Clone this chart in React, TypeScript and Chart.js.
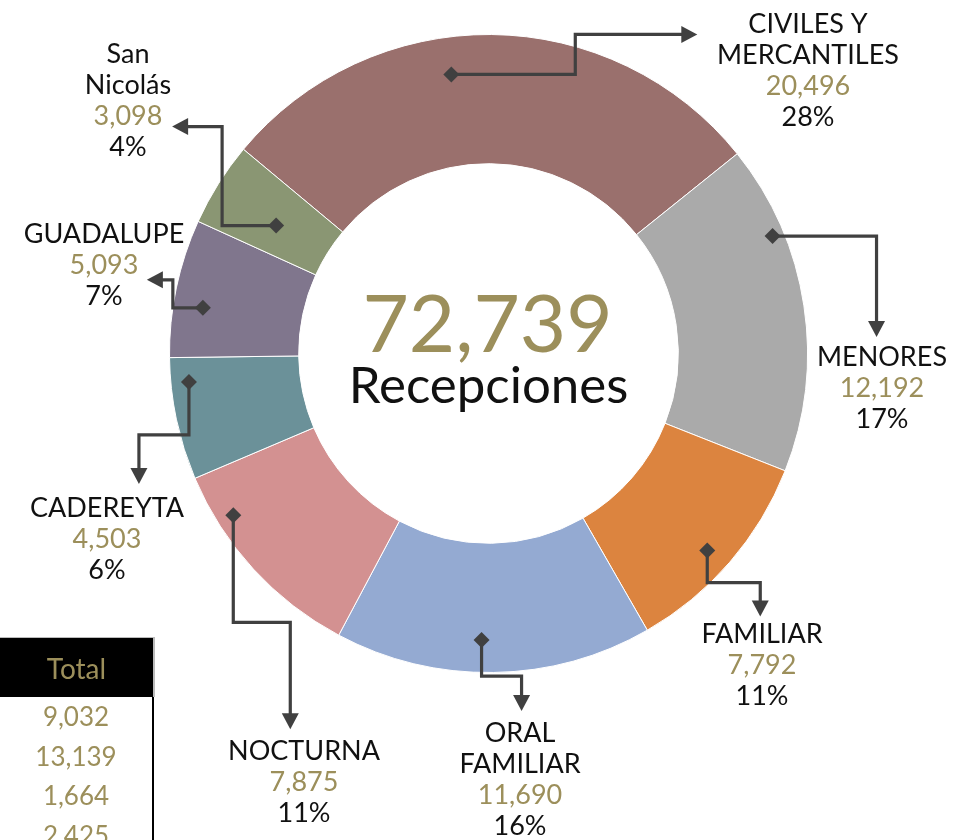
import React, { useEffect, useRef } from 'react';
import { Chart, registerables } from 'chart.js';

Chart.register(...registerables);

// ---- data ----
const categories: string[][] = [
  ['CIVILES Y', 'MERCANTILES'],
  ['MENORES'],
  ['FAMILIAR'],
  ['ORAL', 'FAMILIAR'],
  ['NOCTURNA'],
  ['CADEREYTA'],
  ['GUADALUPE'],
  ['San', 'Nicolás'],
];
const receptions = [20496, 12192, 7792, 11690, 7875, 4503, 5093, 3098];
const centerCaption = 'Recepciones';
const tableHeader = 'Total';
const tableTotals = [9032, 13139, 1664, 2425];

// ---- styles / layout ----
const sliceColors = ['#9a706d', '#aaaaaa', '#dc843f', '#94aad2', '#d39191', '#6b9199', '#80768d', '#8a9673'];
const GOLD = '#9c8f5b';
const LINE = '#404040';
const FONT = 'Lato, "Open Sans", sans-serif';
const LABEL_SIZE = 27;
const LINE_PITCH = 31;

type Seg = ['h' | 'v', number];
interface Callout { at: number; depth: number; path: Seg[]; lx: number; ly: number; }
const calloutLayout: Callout[] = [
  { at: 0.42, depth: 0.71, path: [['h', 124], ['v', -40], ['h', 122]], lx: 808, ly: 33 },
  { at: 0.27, depth: 0.91, path: [['h', 104], ['v', 101]], lx: 882, ly: 366 },
  { at: 0.53, depth: 0.81, path: [['v', 32], ['h', 53], ['v', 34]], lx: 762, ly: 643 },
  { at: 0.54, depth: 0.75, path: [['v', 36], ['h', 40], ['v', 35]], lx: 520, ly: 742 },
  { at: 0.76, depth: 0.87, path: [['v', 107], ['h', 57], ['v', 107]], lx: 304, ly: 760 },
  { at: 0.79, depth: 0.86, path: [['v', 53], ['h', -50], ['v', 49]], lx: 107, ly: 517 },
  { at: 0.39, depth: 0.77, path: [['h', -30], ['v', -28], ['h', -26]], lx: 104, ly: 243 },
  { at: 0.43, depth: 0.45, path: [['h', -54], ['v', -99], ['h', -50]], lx: 128, ly: 63 },
];

const fmt = (n: number) => n.toLocaleString('en-US');

const calloutPlugin = {
  id: 'callouts',
  afterDatasetsDraw(chart: any) {
    const ctx: CanvasRenderingContext2D = chart.ctx;
    const meta = chart.getDatasetMeta(0);
    const values = chart.data.datasets[0].data as number[];
    const total = values.reduce((a, b) => a + b, 0);
    ctx.save();
    let cx = 0, cy = 0;
    meta.data.forEach((arc: any, i: number) => {
      const p = arc.getProps(['x', 'y', 'startAngle', 'endAngle', 'innerRadius', 'outerRadius'], true);
      cx = p.x; cy = p.y;
      const c = calloutLayout[i];
      const a = p.startAngle + c.at * (p.endAngle - p.startAngle);
      const r = p.innerRadius + c.depth * (p.outerRadius - p.innerRadius);
      let x = p.x + r * Math.cos(a);
      let y = p.y + r * Math.sin(a);
      const pts: number[][] = [[x, y]];
      for (const [dir, d] of c.path) {
        if (dir === 'h') x += d; else y += d;
        pts.push([x, y]);
      }
      const n = pts.length;
      const tip = pts[n - 1];
      const prev = pts[n - 2];
      const len = Math.hypot(tip[0] - prev[0], tip[1] - prev[1]);
      const ux = (tip[0] - prev[0]) / len, uy = (tip[1] - prev[1]) / len;
      const aLen = 16, aHalf = 8.5;
      ctx.strokeStyle = LINE;
      ctx.fillStyle = LINE;
      ctx.lineWidth = 3.2;
      ctx.lineJoin = 'miter';
      ctx.beginPath();
      ctx.moveTo(pts[0][0], pts[0][1]);
      for (let k = 1; k < n - 1; k++) ctx.lineTo(pts[k][0], pts[k][1]);
      ctx.lineTo(tip[0] - ux * (aLen - 2), tip[1] - uy * (aLen - 2));
      ctx.stroke();
      // arrow head
      const bx = tip[0] - ux * aLen, by = tip[1] - uy * aLen;
      ctx.beginPath();
      ctx.moveTo(tip[0], tip[1]);
      ctx.lineTo(bx - uy * aHalf, by + ux * aHalf);
      ctx.lineTo(bx + uy * aHalf, by - ux * aHalf);
      ctx.closePath();
      ctx.fill();
      // diamond marker
      const d = 8;
      ctx.beginPath();
      ctx.moveTo(pts[0][0], pts[0][1] - d);
      ctx.lineTo(pts[0][0] + d, pts[0][1]);
      ctx.lineTo(pts[0][0], pts[0][1] + d);
      ctx.lineTo(pts[0][0] - d, pts[0][1]);
      ctx.closePath();
      ctx.fill();
      // label
      ctx.font = `${LABEL_SIZE}px ${FONT}`;
      ctx.textAlign = 'center';
      ctx.textBaseline = 'alphabetic';
      const lines = categories[i];
      let ly = c.ly;
      ctx.fillStyle = '#111111';
      lines.forEach((t) => { ctx.fillText(t, c.lx, ly); ly += LINE_PITCH; });
      ctx.fillStyle = GOLD;
      ctx.fillText(fmt(values[i]), c.lx, ly); ly += LINE_PITCH;
      ctx.fillStyle = '#111111';
      ctx.fillText(Math.round((values[i] / total) * 100) + '%', c.lx, ly);
    });
    // center text
    ctx.textAlign = 'center';
    ctx.textBaseline = 'alphabetic';
    ctx.fillStyle = GOLD;
    ctx.font = `80px ${FONT}`;
    ctx.fillText(fmt(total), cx - 1, cy - 2);
    ctx.fillStyle = '#111111';
    ctx.font = `51px ${FONT}`;
    ctx.fillText(centerCaption, cx, cy + 49);
    ctx.restore();
  },
};

export default function App() {
  const ref = useRef<HTMLCanvasElement | null>(null);
  useEffect(() => {
    if (!ref.current) return;
    const chart = new Chart(ref.current, {
      type: 'doughnut',
      data: {
        labels: categories.map((c) => c.join(' ')),
        datasets: [
          {
            data: receptions,
            backgroundColor: sliceColors,
            borderColor: '#ffffff',
            borderWidth: 1,
            hoverOffset: 0,
            offset: 0,
          },
        ],
      },
      options: {
        responsive: false,
        animation: false,
        rotation: -50.2,
        cutout: '59.5%',
        layout: { padding: { left: 169, right: 157, top: 34, bottom: 167 } },
        plugins: {
          legend: { display: false },
          tooltip: { enabled: false },
        },
        events: [],
      },
      plugins: [calloutPlugin],
    });
    return () => chart.destroy();
  }, []);

  return (
    <div style={{ position: 'absolute', left: 0, top: 0, width: 965, height: 840, overflow: 'hidden', background: '#fff' }}>
      <canvas ref={ref} width={965} height={840} style={{ position: 'absolute', left: 0, top: 0, width: 965, height: 840 }} />
      <div style={{ position: 'absolute', left: 0, top: 637, width: 152, fontFamily: FONT }}>
        <div style={{ height: 60, background: '#000', borderTop: '1px solid #bbb', borderRight: '2px solid #bbb', color: GOLD, fontSize: 28, lineHeight: '60px', textAlign: 'center', boxSizing: 'border-box', width: 155 }}>
          {tableHeader}
        </div>
        <div style={{ borderRight: '2px solid #000', width: 154, boxSizing: 'border-box', height: 200 }}>
          {tableTotals.map((v, i) => (
            <div key={i} style={{ color: GOLD, fontSize: 26, lineHeight: '39.5px', textAlign: 'center', height: 39.5 }}>{fmt(v)}</div>
          ))}
        </div>
      </div>
    </div>
  );
}
